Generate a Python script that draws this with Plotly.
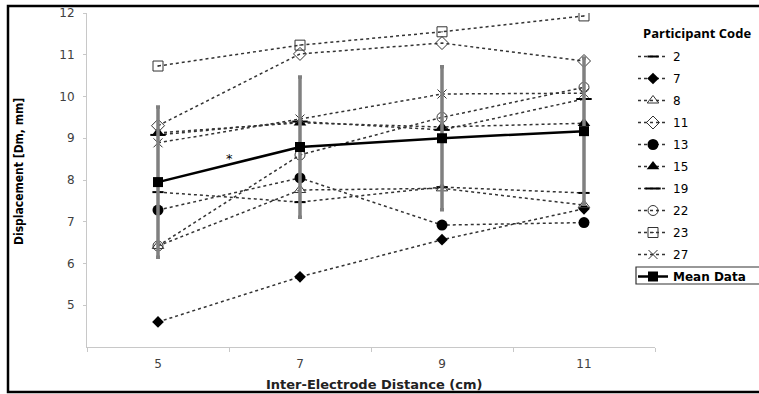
import plotly.graph_objects as go

# Inter-electrode distance (cm) and displacement per participant (Dm, mm)
distance = [5, 7, 9, 11]
p2 = [7.71, 7.47, 7.83, 7.69]
p7 = [4.60, 5.68, 6.57, 7.31]
p8 = [6.42, 7.76, 7.80, 7.40]
p11 = [9.30, 11.02, 11.28, 10.85]
p13 = [7.28, 8.05, 6.92, 6.98]
p15 = [9.13, 9.37, 9.27, 9.36]
p19 = [9.08, 9.40, 9.20, 9.94]
p22 = [6.42, 8.60, 9.50, 10.22]
p23 = [10.73, 11.23, 11.55, 11.93]
p27 = [8.89, 9.46, 10.06, 10.08]
mean_data = [7.95, 8.79, 9.00, 9.17]
mean_sd = [1.80, 1.68, 1.71, 1.75]
y_ticks = [5, 6, 7, 8, 9, 10, 11, 12]
x_boundaries = [4, 6, 8, 10, 12]

W, H = 759, 394
L, R, T, B = 87, 104, 13, 47
PW, PH = W - L - R, H - T - B


def px(x):
    return (x - L) / PW


def py(y):
    return (H - B - y) / PH


INK = "#333333"
participants = [
    ("2", p2, dict(symbol="line-ew", size=8, line=dict(width=2, color="black"))),
    ("7", p7, dict(symbol="diamond", size=9, color="black")),
    ("8", p8, dict(symbol="triangle-up-open", size=10, color=INK, line=dict(width=1))),
    ("11", p11, dict(symbol="diamond-open", size=10, color=INK, line=dict(width=1))),
    ("13", p13, dict(symbol="circle", size=11, color="black")),
    ("15", p15, dict(symbol="triangle-up", size=11, color="black")),
    ("19", p19, dict(symbol="line-ew", size=11, line=dict(width=2, color="black"))),
    ("22", p22, dict(symbol="circle-open", size=10, color=INK, line=dict(width=1))),
    ("23", p23, dict(symbol="square-open-dot", size=10, color=INK, line=dict(width=1))),
    ("27", p27, dict(symbol="x-thin-open", size=9, color=INK, line=dict(width=1))),
]

fig = go.Figure()
for code, values, marker in participants:
    fig.add_trace(go.Scatter(
        x=distance, y=values, name=code, mode="lines+markers",
        line=dict(color=INK, width=1.5, dash="dot"),
        marker=marker, legendgroup=code,
    ))

fig.add_trace(go.Scatter(
    x=distance, y=mean_data, name="<b>Mean Data</b>", mode="lines+markers",
    line=dict(color="black", width=2.5),
    marker=dict(symbol="square", size=10, color="black"),
    error_y=dict(type="data", array=mean_sd, color="#808080", thickness=3.5, width=2),
    legendgroup="mean",
))

fig.add_annotation(x=6, y=8.52, text="*", showarrow=False,
                   font=dict(family="DejaVu Sans", size=13, color="black"))

fig.add_annotation(xref="paper", yref="paper", x=px(19), y=py(172),
                   xanchor="center", yanchor="middle",
                   text="<b>Displacement [Dm, mm]</b>", textangle=-90, showarrow=False,
                   font=dict(family="DejaVu Sans Condensed, Liberation Sans, sans-serif",
                             size=12, color="black"))
fig.add_annotation(xref="paper", yref="paper", x=px(374), y=py(384),
                   xanchor="center", yanchor="middle",
                   text="<b>Inter-Electrode Distance (cm)</b>", showarrow=False,
                   font=dict(family="DejaVu Sans", size=13, color="#222222"))

# Legend heading
fig.add_annotation(xref="paper", yref="paper", x=px(641), y=py(33),
                   xanchor="left", yanchor="middle",
                   text="<b>Participant Code</b>", showarrow=False,
                   font=dict(family="Open Sans, DejaVu Sans", size=13, color="black"))

# Outer frame and the box around the mean legend entry
fig.add_shape(type="rect", xref="paper", yref="paper",
              x0=px(8), x1=px(762), y0=py(392), y1=py(6),
              line=dict(color="black", width=2.5))
fig.add_shape(type="rect", xref="paper", yref="paper",
              x0=px(636), x1=px(762), y0=py(284), y1=py(267),
              line=dict(color="#333333", width=1.2))

fig.update_layout(
    width=W, height=H,
    margin=dict(l=L, r=R, t=T, b=B, autoexpand=False),
    paper_bgcolor="white", plot_bgcolor="white",
    showlegend=True,
    legend=dict(
        x=px(633), xanchor="left", y=py(42), yanchor="top",
        font=dict(family="DejaVu Sans", size=12, color="black"),
        tracegroupgap=3, bgcolor="rgba(0,0,0,0)",
    ),
    xaxis=dict(
        range=[4, 12], tickvals=distance, ticktext=[str(v) for v in distance],
        ticks="", showgrid=False, zeroline=False,
        showline=True, linecolor="#c8c8c8", linewidth=1,
        tickfont=dict(family="DejaVu Sans", size=12, color="#404040"),
        ticklabelstandoff=6,
        minor=dict(tickmode="array", tickvals=x_boundaries, ticks="outside",
                   ticklen=4, tickcolor="#c8c8c8", showgrid=False),
    ),
    yaxis=dict(
        range=[4, 12], tickvals=y_ticks, ticks="outside", ticklen=3,
        tickcolor="#c8c8c8", showgrid=False, zeroline=False,
        showline=True, linecolor="#c8c8c8", linewidth=1,
        tickfont=dict(family="DejaVu Sans", size=12, color="#404040"),
        ticklabelstandoff=6,
    ),
)

fig.write_html("out.html")
